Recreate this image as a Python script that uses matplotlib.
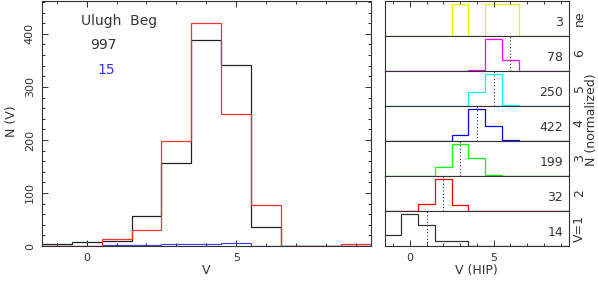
import numpy as np
import matplotlib
matplotlib.use("Agg")
import matplotlib.pyplot as plt
from matplotlib.ticker import MultipleLocator

# bins centred on integer V, from -1 to 9
bin_centres = list(range(-1, 10))

# left panel: N per V bin
n_black = [3, 7, 10, 56, 157, 388, 341, 35, 0, 0, 0]
n_red = [0, 0, 13, 31, 198, 420, 248, 77, 0, 0, 3]
n_blue = [0, 0, 1, 2, 3, 4, 5, 0, 0, 0, 0]

# right panel: counts per V(HIP) bin for each V class (top to bottom)
row_labels = ["ne", "6", "5", "4", "3", "2", "V=1"]
row_totals = ["3", "78", "250", "422", "199", "32", "14"]
row_vmark = [None, 6, 5, 4, 3, 2, 1]
row_colors = ["#f0f000", "#ff00ff", "#00ffff", "#0000ff", "#00ff00", "#ff0000", "#333333"]
row_counts = [
    [0, 0, 0, 0, 1, 0, 1, 1, 0, 0, 0],
    [0, 0, 0, 0, 0, 1, 57, 20, 0, 0, 0],
    [0, 0, 0, 0, 0, 74, 171, 5, 0, 0, 0],
    [0, 0, 0, 0, 46, 254, 117, 5, 0, 0, 0],
    [0, 0, 0, 30, 107, 60, 2, 0, 0, 0, 0],
    [0, 0, 5, 23, 4, 0, 0, 0, 0, 0, 0],
    [2, 6, 4, 1, 1, 0, 0, 0, 0, 0, 0],
]

TXT = "#333333"
plt.rcParams["font.family"] = "DejaVu Sans"
plt.rcParams["text.color"] = TXT

edges = np.array(bin_centres + [bin_centres[-1] + 1]) - 0.5

fig = plt.figure(figsize=(5.98, 2.81), dpi=100)
W, H = 598.0, 281.0

# ---------------- left panel ----------------
ax = fig.add_axes([41.7 / W, 1 - 246 / H, (371 - 41.7) / W, 245 / H])
ax.stairs(n_blue, edges, color="#4040ff", lw=0.9, baseline=None)
ax.stairs(n_black, edges, color="#222222", lw=0.9, baseline=None)
ax.stairs(n_red, edges, color="#ff3030", lw=0.9, baseline=None)
ax.set_xlim(-1.5, 9.5)
ax.set_ylim(0, 462)
ax.xaxis.set_major_locator(MultipleLocator(5))
ax.xaxis.set_minor_locator(MultipleLocator(1))
ax.yaxis.set_major_locator(MultipleLocator(100))
ax.yaxis.set_minor_locator(MultipleLocator(20))
ax.tick_params(which="both", direction="in", top=True, right=True,
               colors=TXT, labelsize=8, pad=5)
ax.tick_params(which="major", length=4.5, width=0.7)
ax.tick_params(which="minor", length=2.3, width=0.7)
for lab in ax.get_yticklabels():
    lab.set_rotation(90)
    lab.set_va("center")
for sp in ax.spines.values():
    sp.set_color(TXT)
    sp.set_linewidth(0.8)
ax.set_xlabel("V", fontsize=9, color=TXT, labelpad=1)
fig.text(11 / W, 1 - 121 / H, "N (V)", rotation=90, ha="center", va="center",
         fontsize=9, color=TXT)
ax.text(1.08, 424, "Ulugh  Beg", ha="center", va="center", fontsize=10, color=TXT)
ax.text(0.56, 379, "997", ha="center", va="center", fontsize=10, color=TXT)
ax.text(0.67, 332, "15", ha="center", va="center", fontsize=10, color="#3030ff")

# ---------------- right panel stack ----------------
x0, x1 = 384.7, 569.0
top, bot = 1.0, 246.0
nrow = len(row_counts)
ph = (bot - top) / nrow
for i in range(nrow):
    y_top = top + i * ph
    a = fig.add_axes([x0 / W, 1 - (y_top + ph) / H, (x1 - x0) / W, ph / H])
    counts = np.array(row_counts[i], dtype=float)
    a.stairs(counts / counts.max(), edges, color=row_colors[i], lw=0.9, baseline=None)
    if row_vmark[i] is not None:
        a.axvline(row_vmark[i], color=TXT, lw=0.8, ls=(0, (1, 2)))
    a.set_xlim(-1.5, 9.5)
    a.set_ylim(0, 1.1)
    a.set_yticks([])
    a.xaxis.set_major_locator(MultipleLocator(5))
    a.xaxis.set_minor_locator(MultipleLocator(1))
    a.tick_params(which="both", direction="in", colors=TXT, labelsize=8, pad=5,
                  top=(i == 0), bottom=(i == nrow - 1),
                  labelbottom=(i == nrow - 1))
    a.tick_params(which="major", length=4, width=0.7)
    a.tick_params(which="minor", length=2.3, width=0.7)
    for sp in a.spines.values():
        sp.set_color(TXT)
        sp.set_linewidth(0.8)
    a.text(0.968, 0.38, row_totals[i], transform=a.transAxes, ha="right",
           va="center", fontsize=9, color=TXT)
    a.text(1.055, 0.5, row_labels[i], transform=a.transAxes, ha="center",
           va="center", rotation=90, fontsize=9, color=TXT)
    if i == nrow - 1:
        a.set_xlabel("V (HIP)", fontsize=9, color=TXT, labelpad=1)

fig.text(592 / W, 1 - 120 / H, "N (normalized)", rotation=90, ha="center",
         va="center", fontsize=9, color=TXT)

fig.savefig("out.png", dpi=100)
